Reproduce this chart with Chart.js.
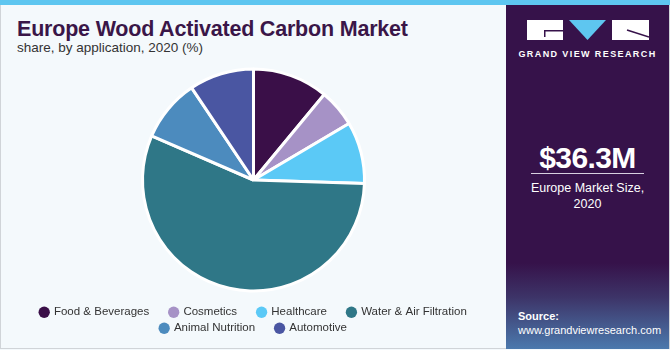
<!DOCTYPE html>
<html>
<head>
<meta charset="utf-8">
<script src="https://cdn.jsdelivr.net/npm/chart.js@4"></script>
<style>
  html, body { margin: 0; padding: 0; }
  body { width: 670px; height: 350px; position: relative; overflow: hidden; background: #f4f9fc; font-family: "Liberation Sans", Arial, sans-serif; }
  #frame { position: absolute; left: 0; top: 0; width: 668px; height: 348px; border: 1px solid #d0d4d8; border-top: none; }
  #topbar { position: absolute; left: 0; top: 0; width: 670px; height: 5px; background: #5ec6f0; }
  #title { position: absolute; left: 17px; top: 17px; font-size: 21.5px; font-weight: 900; color: #3a1648; letter-spacing: -0.2px; }
  #subtitle { position: absolute; left: 17px; top: 40px; font-size: 13.5px; color: #333; }
  #panel { position: absolute; left: 506px; top: 5px; width: 163px; height: 344px;
    background: linear-gradient(to bottom, #36124a 0%, #36124a 75%, #3d3468 85%, #4b79ad 100%); }
  #gvr { position: absolute; left: 0; width: 163px; top: 44px; text-align: center; color: #fff; font-size: 9px; font-weight: bold; letter-spacing: 1.4px; }
  #big { position: absolute; left: 0; width: 163px; top: 136px; text-align: center; color: #fff; font-size: 30px; font-weight: bold; letter-spacing: -0.6px; }
  #rule { position: absolute; left: 25px; width: 113px; top: 168px; height: 1px; background: #d8d0e0; }
  #size { position: absolute; left: 0; width: 163px; top: 175px; text-align: center; color: #fff; font-size: 12.5px; line-height: 16px; }
  #src { position: absolute; left: 12px; top: 304px; color: #fff; font-size: 11px; line-height: 14px; }
  #chartbox { position: absolute; left: 1px; top: 58px; width: 505px; height: 286px; }
</style>
</head>
<body>
<div id="frame"></div>
<div id="topbar"></div>
<div id="title">Europe Wood Activated Carbon Market</div>
<div id="subtitle">share, by application, 2020 (%)</div>
<div id="chartbox"><canvas id="pie" width="505" height="286"></canvas></div>
<div id="panel">
  <svg style="position:absolute;left:21px;top:15px" width="122" height="20" viewBox="0 0 122 20">
    <rect x="0" y="0" width="36" height="20" fill="#fff"/>
    <rect x="17" y="10" width="19" height="1.5" fill="#36124a"/>
    <rect x="17" y="10" width="1.5" height="7" fill="#36124a"/>
    <polygon points="42,0 79,0 60.5,20" fill="#5ec6f0"/>
    <rect x="85" y="0" width="37" height="20" fill="#fff"/>
    <line x1="100" y1="10" x2="122" y2="17" stroke="#36124a" stroke-width="1.5"/>
  </svg>
  <div id="gvr">GRAND VIEW RESEARCH</div>
  <div id="big">$36.3M</div>
  <div id="rule"></div>
  <div id="size">Europe Market Size,<br>2020</div>
  <div id="src"><b>Source:</b><br>www.grandviewresearch.com</div>
</div>
<script>
const categories = ["Food & Beverages", "Cosmetics", "Healthcare", "Water & Air Filtration", "Animal Nutrition", "Automotive"];
const shares = [11.0, 5.5, 9.0, 56.0, 9.1, 9.4];
const colors = ["#3a0f48", "#a692c6", "#5bc9f6", "#2f7787", "#4c8bbe", "#4a56a2"];
// last item of each legend row gets no trailing gap
const rowEnds = ["Water & Air Filtration", "Automotive"];

new Chart(document.getElementById("pie"), {
  type: "pie",
  data: {
    labels: categories,
    datasets: [{
      data: shares,
      backgroundColor: colors,
      borderColor: "#ffffff",
      borderWidth: 3,
      radius: 111
    }]
  },
  options: {
    responsive: false,
    animation: false,
    layout: { padding: 0 },
    plugins: {
      tooltip: { enabled: false },
      legend: {
        position: "bottom",
        labels: {
          usePointStyle: true,
          pointStyle: "circle",
          boxWidth: 8,
          boxHeight: 8,
          padding: 4.5,
          color: "#333",
          font: { family: "Liberation Sans, Arial, sans-serif", size: 11.5 },
          generateLabels: (chart) => {
            const items = Chart.overrides.pie.plugins.legend.labels.generateLabels(chart);
            items.forEach(it => {
              it.lineWidth = 0;
              if (!rowEnds.includes(it.text)) it.text = it.text + "     ";
            });
            return items;
          }
        }
      }
    }
  }
});
</script>
</body>
</html>
